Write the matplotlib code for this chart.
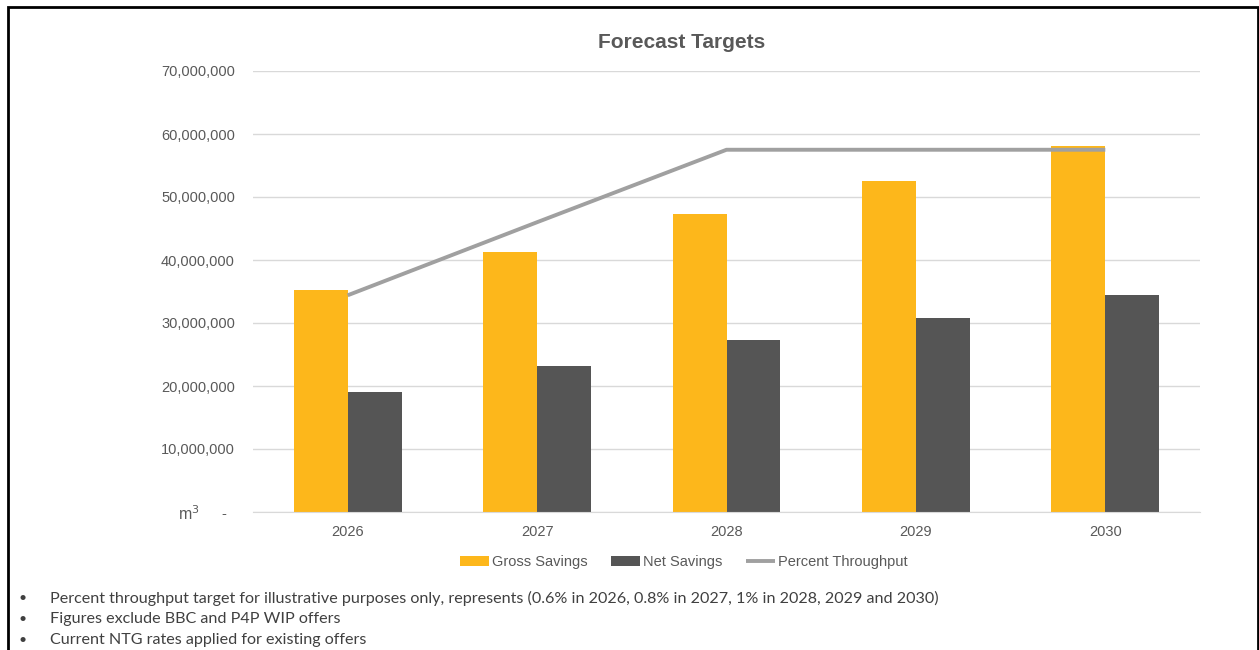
import numpy as np
import matplotlib
matplotlib.use("Agg")
import matplotlib.pyplot as plt
from matplotlib.ticker import FuncFormatter
from matplotlib.patches import Rectangle

years = ["2026", "2027", "2028", "2029", "2030"]
gross_savings = [35.2e6, 41.3e6, 47.3e6, 52.5e6, 58.1e6]
net_savings = [19.0e6, 23.2e6, 27.3e6, 30.8e6, 34.4e6]
percent_throughput = [34.4e6, 46.0e6, 57.5e6, 57.5e6, 57.5e6]

notes = [
    "Percent throughput target for illustrative purposes only, represents (0.6% in 2026, 0.8% in 2027, 1% in 2028, 2029 and 2030)",
    "Figures exclude BBC and P4P WIP offers",
    "Current NTG rates applied for existing offers",
]

gold = "#FDB71B"
dark = "#555555"
grey_line = "#A0A0A0"
txt = "#595959"

plt.rcParams["font.family"] = ["Liberation Sans", "DejaVu Sans"]

fig = plt.figure(figsize=(12.59, 6.5), dpi=100)
ax = fig.add_axes([253 / 1259, 1 - 512 / 650, (1200 - 253) / 1259, (512 - 71) / 650])

x = np.arange(len(years))
w = 0.285
b1 = ax.bar(x - w / 2, gross_savings, w, color=gold, label="Gross Savings", zorder=2)
b2 = ax.bar(x + w / 2, net_savings, w, color=dark, label="Net Savings", zorder=2)
l1, = ax.plot(x, percent_throughput, color=grey_line, lw=2.8, label="Percent Throughput",
              solid_capstyle="butt", zorder=3)

ax.set_xlim(-0.5, len(years) - 0.5)
ax.set_ylim(0, 70e6)
ax.set_yticks(np.arange(0, 70e6 + 1, 10e6))
# accounting style: zero shows as a dash, set in a little from the right
ax.yaxis.set_major_formatter(FuncFormatter(lambda v, p: "-  " if v == 0 else f"{v:,.0f}"))
ax.set_xticks(x)
ax.set_xticklabels(years)
ax.tick_params(length=0, labelsize=10.5, colors=txt)
ax.tick_params(axis="y", pad=13)
ax.tick_params(axis="x", pad=9)
ax.grid(axis="y", color="#D9D9D9", lw=1, zorder=0)
for s in ["top", "right", "left"]:
    ax.spines[s].set_visible(False)
ax.spines["bottom"].set_color("#D9D9D9")

fig.text(189 / 1259, 1 - 514 / 650, "m$^3$", fontsize=11.5, color=txt, ha="center", va="center")
fig.text(682 / 1259, 1 - 43 / 650, "Forecast Targets", fontsize=15, fontweight="bold",
         color=txt, ha="center", va="center")

leg = fig.legend([b1, b2, l1], ["Gross Savings", "Net Savings", "Percent Throughput"],
                 loc="center", bbox_to_anchor=(684 / 1259, 1 - 562 / 650), ncol=3, frameon=False,
                 fontsize=10.5, handlelength=2.0, handletextpad=0.2, columnspacing=1.6)
for t in leg.get_texts():
    t.set_color(txt)

for i, note in enumerate(notes):
    yy = 1 - (598 + 21 * i) / 650
    fig.text(18 / 1259, yy, "\u2022", fontsize=10, color="#404040", va="center",
             family=["Lato", "DejaVu Sans"])
    fig.text(50 / 1259, yy, note, fontsize=11.65, color="#404040", va="center",
             family=["Lato", "DejaVu Sans"])

# frame around the chart
fig.patches.append(Rectangle((8 / 1259, -0.2), (1258 - 8) / 1259, 1.2 - 7 / 650,
                             transform=fig.transFigure, fill=False, ec="black", lw=2))

fig.savefig("out.png", dpi=100)
